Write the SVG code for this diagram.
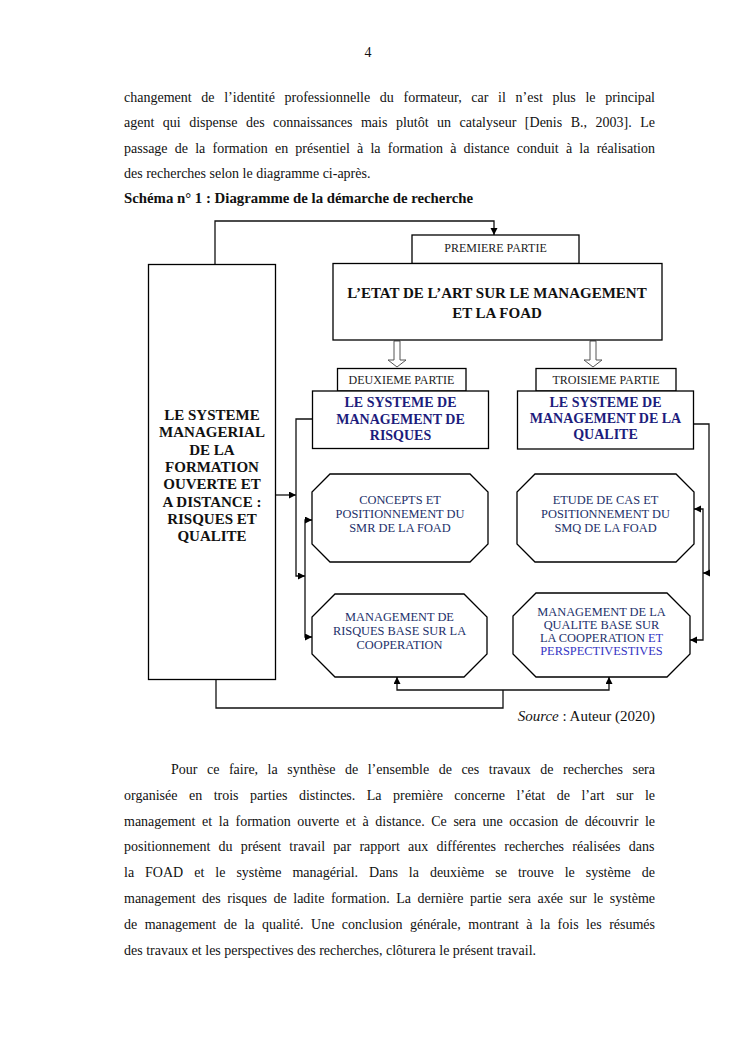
<svg xmlns="http://www.w3.org/2000/svg" width="745" height="1053" viewBox="0 0 745 1053">
<defs>
<style>
.body{font-family:"Liberation Serif","Times New Roman",serif;font-size:14px;fill:#111}
.bold{font-weight:bold}
.box{fill:#fff;stroke:#000;stroke-width:1.3}
.lbl{font-family:"Liberation Serif","Times New Roman",serif;font-size:12px;fill:#222;text-anchor:middle}
.title{font-family:"Liberation Serif","Times New Roman",serif;font-size:15px;font-weight:bold;fill:#111;text-anchor:middle}
.blue{font-family:"Liberation Serif","Times New Roman",serif;font-size:14px;font-weight:bold;fill:#1c1c7c;text-anchor:middle}
.oct{font-family:"Liberation Serif","Times New Roman",serif;font-size:12.4px;fill:#22306a;text-anchor:middle}
.oct2{fill:#3434c4}
.conn{fill:none;stroke:#111;stroke-width:1.3}
.hollow{fill:#fff;stroke:#555;stroke-width:1}
</style>
<marker id="ah" markerWidth="8" markerHeight="8" refX="7" refY="3.5" orient="auto-start-reverse" markerUnits="userSpaceOnUse">
<path d="M0,0 L7,3.5 L0,7 z" fill="#000"/>
</marker>
</defs>
<rect width="745" height="1053" fill="#fff"/>

<g id="page-text">
<text class="body" x="368" y="57" text-anchor="middle">4</text>
<text class="body" x="124" y="102" word-spacing="6.1" textLength="531" lengthAdjust="spacing">changement de l’identité professionnelle du formateur, car il n’est plus le principal</text>
<text class="body" x="124" y="127.4" word-spacing="5" textLength="531" lengthAdjust="spacing">agent qui dispense des connaissances mais plutôt un catalyseur [Denis B., 2003]. Le</text>
<text class="body" x="124" y="152.8" word-spacing="3.7" textLength="531" lengthAdjust="spacing">passage de la formation en présentiel à la formation à distance conduit à la réalisation</text>
<text class="body" x="124" y="178.2">des recherches selon le diagramme ci-après.</text>
<text class="body bold" x="124" y="203.4" style="font-size:14.8px">Schéma n° 1 : Diagramme de la démarche de recherche</text>
<text class="body" x="655" y="721" text-anchor="end" style="font-size:15px"><tspan font-style="italic">Source</tspan> : Auteur (2020)</text>
<text class="body" x="171" y="774" word-spacing="6" textLength="484" lengthAdjust="spacing">Pour ce faire, la synthèse de l’ensemble de ces travaux de recherches sera</text>
<text class="body" x="124" y="799.8" word-spacing="8" textLength="531" lengthAdjust="spacing">organisée en trois parties distinctes. La première concerne l’état de l’art sur le</text>
<text class="body" x="124" y="825.6" word-spacing="3.1" textLength="531" lengthAdjust="spacing">management et la formation ouverte et à distance. Ce sera une occasion de découvrir le</text>
<text class="body" x="124" y="851.4" word-spacing="4.7">positionnement du présent travail par rapport aux différentes recherches réalisées dans</text>
<text class="body" x="124" y="877.2" word-spacing="7.5" textLength="531" lengthAdjust="spacing">la FOAD et le système managérial. Dans la deuxième se trouve le système de</text>
<text class="body" x="124" y="903" word-spacing="3" textLength="531" lengthAdjust="spacing">management des risques de ladite formation. La dernière partie sera axée sur le système</text>
<text class="body" x="124" y="928.8" word-spacing="4" textLength="531" lengthAdjust="spacing">de management de la qualité. Une conclusion générale, montrant à la fois les résumés</text>
<text class="body" x="124" y="954.6">des travaux et les perspectives des recherches, clôturera le présent travail.</text>
</g>

<g id="connectors">
<path class="conn" d="M215,264 V221 H494 V235" marker-end="url(#ah)"/>
<path class="conn" d="M276,495 H296" marker-end="url(#ah)"/>
<path class="conn" d="M312,419 H296 V576 H305" marker-end="url(#ah)"/>
<path class="conn" d="M312,520 H305 V637 H312" marker-start="url(#ah)" marker-end="url(#ah)"/>
<path class="conn" d="M693,424 H709 V573 H703" marker-end="url(#ah)"/>
<path class="conn" d="M694,509 H703 V640 H690" marker-start="url(#ah)" marker-end="url(#ah)"/>
<path class="conn" d="M216,679 V708 H503 V690"/>
<path class="conn" d="M503,690 H397 V677" marker-end="url(#ah)"/>
<path class="conn" d="M503,690 H609 V677" marker-end="url(#ah)"/>
<path class="hollow" d="M394,341 H400 V360 H406 L397,367 L388,360 H394 Z"/>
<path class="hollow" d="M590,341 H596 V360 H602 L593,367 L584,360 H590 Z"/>
</g>

<g id="node-left">
<rect class="box" x="148.5" y="264.5" width="127" height="415"/>
<text class="title" x="212" y="420">LE SYSTEME</text>
<text class="title" x="212" y="437.3">MANAGERIAL</text>
<text class="title" x="212" y="454.6">DE LA</text>
<text class="title" x="212" y="471.9">FORMATION</text>
<text class="title" x="212" y="489.2">OUVERTE ET</text>
<text class="title" x="212" y="506.5">A DISTANCE :</text>
<text class="title" x="212" y="523.8">RISQUES ET</text>
<text class="title" x="212" y="541.1">QUALITE</text>
</g>

<g id="node-premiere">
<rect class="box" x="412" y="235" width="167" height="28.5"/>
<text class="lbl" x="495.5" y="252">PREMIERE PARTIE</text>
</g>

<g id="node-etat">
<rect class="box" x="333" y="263.5" width="329" height="76.5"/>
<text class="title" x="497" y="298">L’ETAT DE L’ART SUR LE MANAGEMENT</text>
<text class="title" x="497" y="318">ET LA FOAD</text>
</g>

<g id="node-deuxieme">
<rect class="box" x="337.5" y="368.5" width="128.5" height="22.5"/>
<text class="lbl" x="401.5" y="384">DEUXIEME PARTIE</text>
</g>

<g id="node-troisieme">
<rect class="box" x="536" y="368.5" width="140" height="22.5"/>
<text class="lbl" x="606" y="384">TROISIEME PARTIE</text>
</g>

<g id="node-smr">
<rect class="box" x="312.5" y="391" width="176" height="57.5"/>
<text class="blue" x="400.5" y="407">LE SYSTEME DE</text>
<text class="blue" x="400.5" y="423.5">MANAGEMENT DE</text>
<text class="blue" x="400.5" y="440">RISQUES</text>
</g>

<g id="node-smq">
<rect class="box" x="517.5" y="391" width="176" height="58"/>
<text class="blue" x="605.5" y="407">LE SYSTEME DE</text>
<text class="blue" x="605.5" y="423">MANAGEMENT DE LA</text>
<text class="blue" x="605.5" y="439">QUALITE</text>
</g>

<g id="node-concepts">
<path class="box" d="M330,474 H470 L488,492 V544 L470,562 H330 L312,544 V492 Z"/>
<text class="oct" x="400" y="503.5">CONCEPTS ET</text>
<text class="oct" x="400" y="517.5">POSITIONNEMENT DU</text>
<text class="oct" x="400" y="531.5">SMR DE LA FOAD</text>
</g>

<g id="node-etude">
<path class="box" d="M535,474 H676 L694,492 V544 L676,562 H535 L517,544 V492 Z"/>
<text class="oct" x="605.5" y="503.5">ETUDE DE CAS ET</text>
<text class="oct" x="605.5" y="517.5">POSITIONNEMENT DU</text>
<text class="oct" x="605.5" y="531.5">SMQ DE LA FOAD</text>
</g>

<g id="node-mr">
<path class="box" d="M335,594 H464 L487,617 V654 L464,677 H335 L312,654 V617 Z"/>
<text class="oct" x="399.5" y="621">MANAGEMENT DE</text>
<text class="oct" x="399.5" y="635">RISQUES BASE SUR LA</text>
<text class="oct" x="399.5" y="649">COOPERATION</text>
</g>

<g id="node-mq">
<path class="box" d="M536,593 H667 L690,616 V654 L667,677 H536 L513,654 V616 Z"/>
<text class="oct" x="601.5" y="616">MANAGEMENT DE LA</text>
<text class="oct" x="601.5" y="629">QUALITE BASE SUR</text>
<text class="oct" x="601.5" y="642">LA COOPERATION <tspan class="oct2">ET</tspan></text>
<text class="oct oct2" x="601.5" y="655">PERSPECTIVESTIVES</text>
</g>
</svg>
